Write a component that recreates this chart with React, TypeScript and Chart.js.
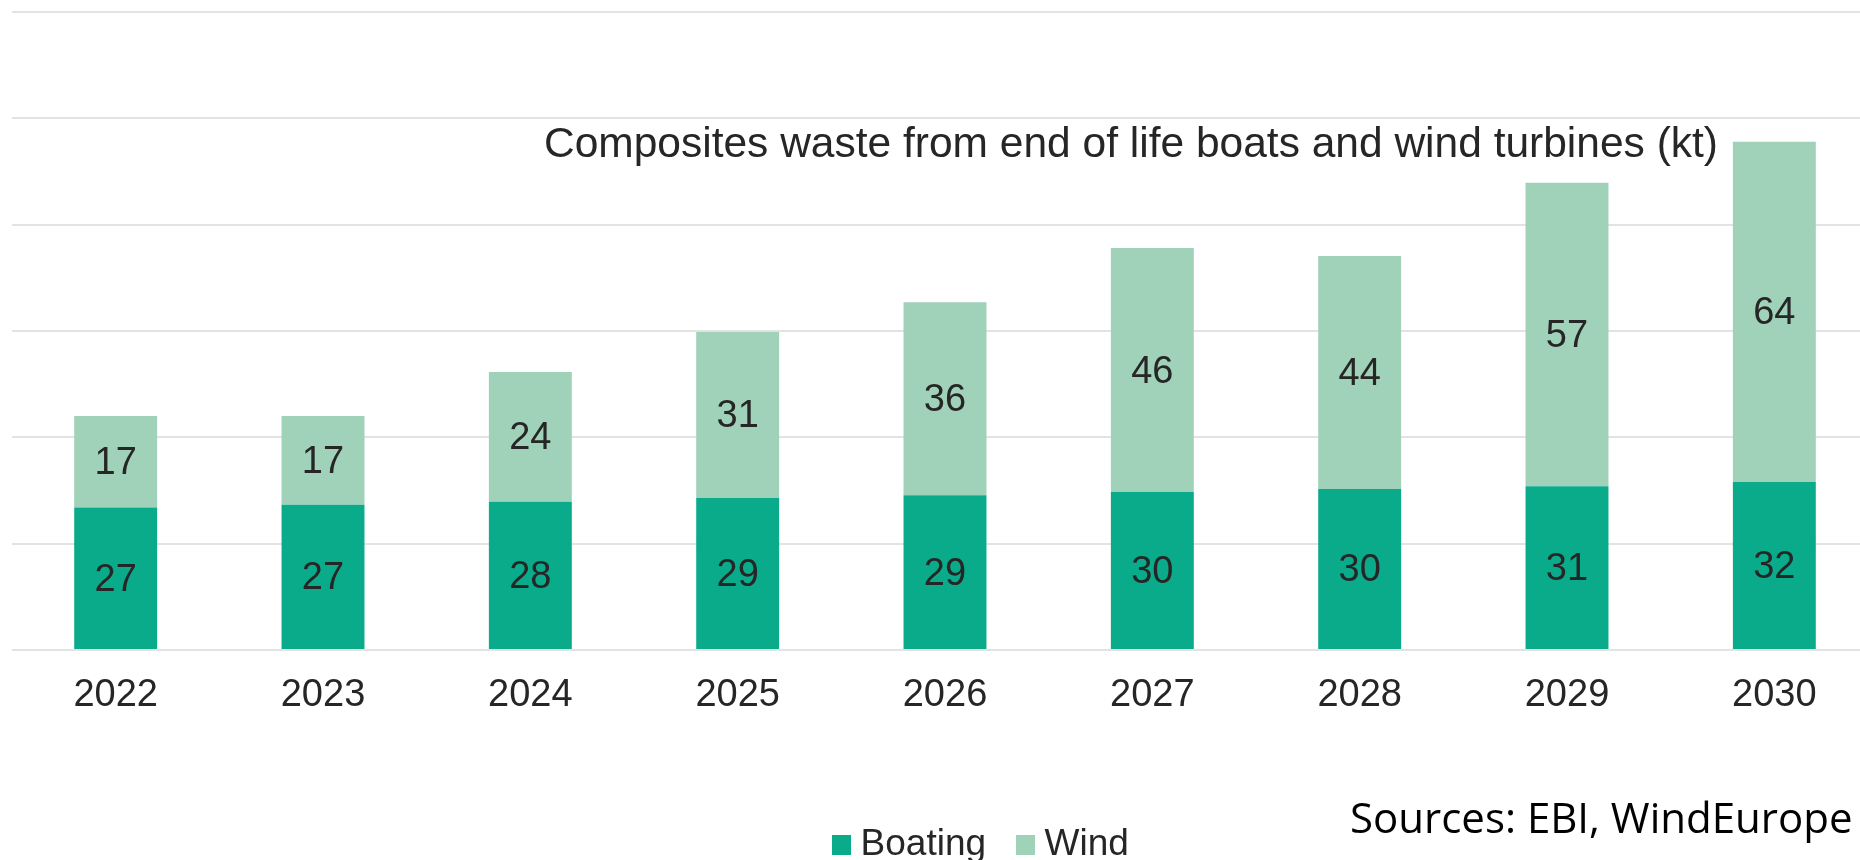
import React, { useEffect, useRef } from "react";
import { Chart, registerables } from "chart.js";

Chart.register(...registerables);

// ---- data ----
const years = ["2022", "2023", "2024", "2025", "2026", "2027", "2028", "2029", "2030"];
const boating = [26.8, 27.3, 27.9, 28.6, 29.1, 29.7, 30.3, 30.8, 31.6];
const wind = [17.2, 16.7, 24.4, 31.2, 36.3, 45.9, 43.8, 57.1, 64.0];
const seriesNames = ["Boating", "Wind"];
const seriesColors = ["#09AB8B", "#9FD2B9"];
const yMax = 120;
const yStep = 20;
const titleText = "Composites waste from end of life boats and wind turbines (kt)";
const sourceText = "Sources: EBI, WindEurope";

const SANS = '"Liberation Sans", Arial, Helvetica, sans-serif';
const TEXT = "#262626";

function swatch(color: string) {
  const c = document.createElement("canvas");
  c.width = 19;
  c.height = 20;
  const g = c.getContext("2d");
  if (g) {
    g.fillStyle = color;
    g.fillRect(0, 0, 19, 20);
  }
  return c;
}

const overlayPlugin = {
  id: "overlay",
  afterLayout(chart: any) {
    const lg = chart.legend;
    if (lg) {
      lg.left += 40;
      lg.right += 40;
    }
  },
  afterDatasetsDraw(chart: any) {
    const ctx = chart.ctx;
    ctx.save();
    ctx.font = `38px ${SANS}`;
    ctx.fillStyle = TEXT;
    ctx.textAlign = "center";
    ctx.textBaseline = "middle";
    chart.data.datasets.forEach((ds: any, di: number) => {
      const meta = chart.getDatasetMeta(di);
      meta.data.forEach((bar: any, i: number) => {
        const p = bar.getProps(["x", "y", "base"], true);
        ctx.fillText(String(Math.round(ds.data[i])), p.x, (p.y + p.base) / 2 + 2);
      });
    });
    ctx.font = `42.5px ${SANS}`;
    ctx.textAlign = "right";
    ctx.textBaseline = "alphabetic";
    ctx.fillText(titleText, 1718, 157);
    ctx.font = '42px "Open Sans", "Noto Sans", sans-serif';
    ctx.fillStyle = "#000000";
    ctx.textAlign = "left";
    ctx.fillText(sourceText, 1350, 833);
    ctx.restore();
  },
};

export default function App() {
  const ref = useRef<HTMLCanvasElement | null>(null);

  useEffect(() => {
    if (!ref.current) return;
    const swatches = seriesColors.map(swatch);
    const chart = new Chart(ref.current, {
      type: "bar",
      data: {
        labels: years,
        datasets: [
          { label: seriesNames[0], data: boating, backgroundColor: seriesColors[0], borderWidth: 0 },
          { label: seriesNames[1], data: wind, backgroundColor: seriesColors[1], borderWidth: 0 },
        ],
      },
      options: {
        animation: false,
        responsive: false,
        devicePixelRatio: 1,
        layout: { padding: { top: 12, left: 12, right: 0, bottom: 0 } },
        datasets: { bar: { categoryPercentage: 1, barPercentage: 0.4 } },
        scales: {
          x: {
            stacked: true,
            grid: { display: false, drawTicks: false },
            border: { display: false },
            ticks: { color: TEXT, font: { family: SANS, size: 38 }, padding: 23, maxRotation: 0 },
            afterFit: (scale: any) => {
              scale.height = 137;
            },
          },
          y: {
            stacked: true,
            min: 0,
            max: yMax,
            ticks: { display: false, stepSize: yStep },
            grid: { color: "#e3e3e3", lineWidth: 2, drawTicks: false },
            border: { display: false },
          },
        },
        plugins: {
          legend: {
            position: "bottom",
            labels: {
              color: TEXT,
              font: { family: SANS, size: 37 },
              usePointStyle: true,
              boxWidth: 1,
              boxHeight: 20,
              padding: 39,
              generateLabels: (c: any) => {
                const items = Chart.defaults.plugins.legend.labels.generateLabels(c);
                return items.map((it: any, i: number) => ({ ...it, pointStyle: swatches[i % swatches.length] }));
              },
            },
          },
          title: { display: false },
          tooltip: { enabled: false },
        },
      },
      plugins: [overlayPlugin],
    });
    return () => chart.destroy();
  }, []);

  return (
    <div
      style={{
        position: "absolute",
        left: 0,
        top: 0,
        width: 1860,
        height: 860,
        overflow: "hidden",
        background: "#ffffff",
      }}
    >
      <canvas ref={ref} width={1878} height={873} style={{ display: "block", width: 1878, height: 873 }} />
    </div>
  );
}
